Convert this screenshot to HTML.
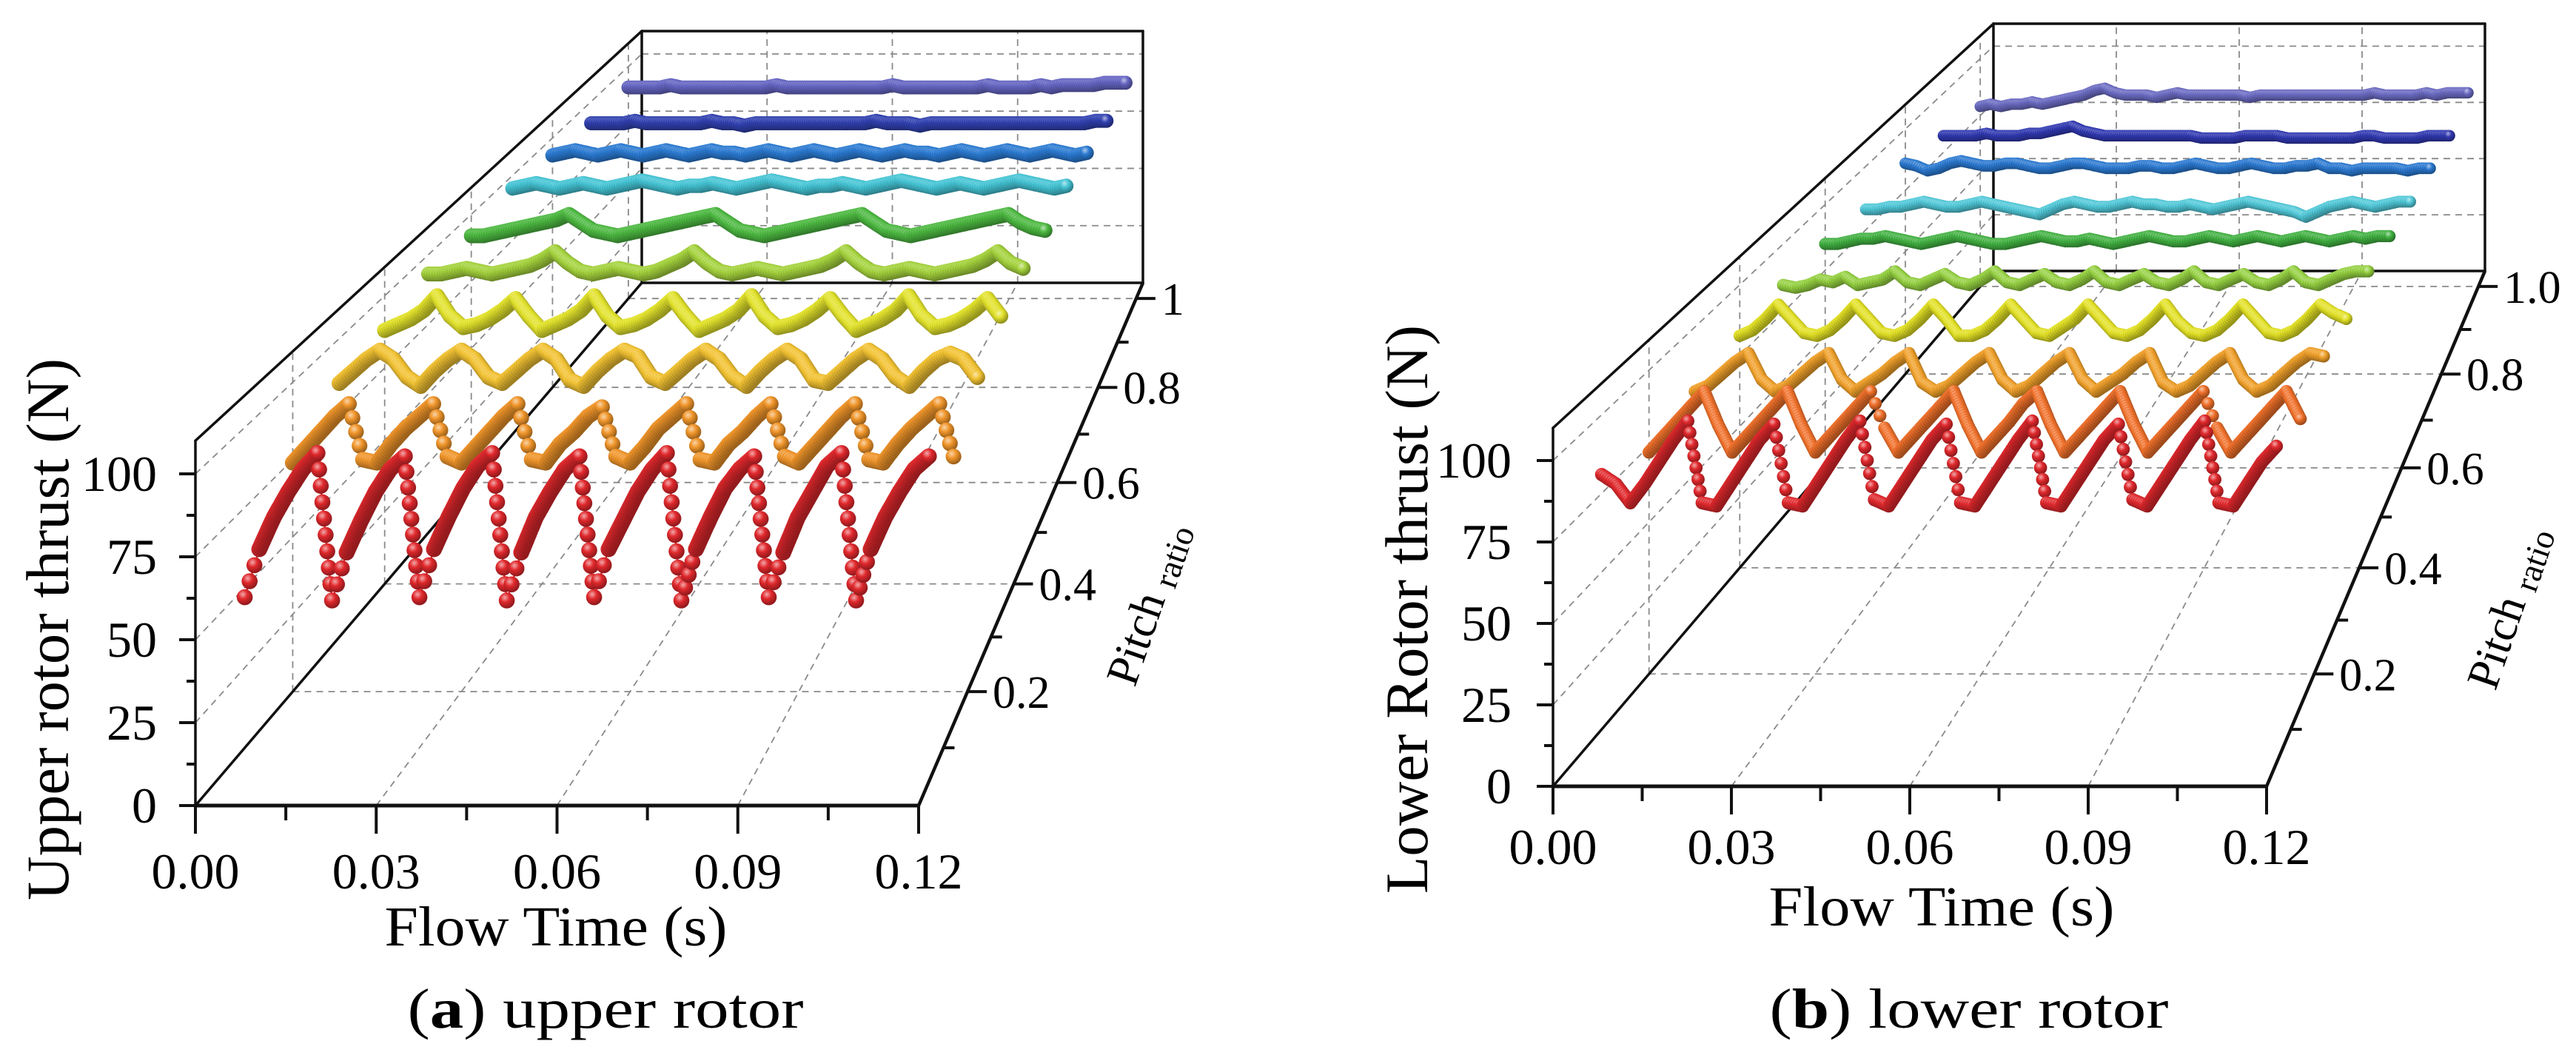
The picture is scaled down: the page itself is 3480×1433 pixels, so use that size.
<!DOCTYPE html>
<html><head><meta charset="utf-8"><style>
html,body{margin:0;padding:0;background:#fff;}
svg{display:block;font-family:"Liberation Serif",serif;}
</style></head><body>
<svg id="fig" width="3480" height="1433" viewBox="0 0 3480 1433">
<rect x="0" y="0" width="3480" height="1433" fill="#fff"/>
<defs id="defs"></defs>
<g id="chartA"></g>
<g id="chartB"></g>
<text x="818" y="1388" font-size="76" text-anchor="middle" textLength="535" lengthAdjust="spacingAndGlyphs">(<tspan font-weight="bold">a</tspan>) upper rotor</text>
<text x="2660" y="1388" font-size="76" text-anchor="middle" textLength="539" lengthAdjust="spacingAndGlyphs">(<tspan font-weight="bold">b</tspan>) lower rotor</text>
</svg>
<script>
const times = [0,0.0025,0.005,0.0075,0.01,0.0125,0.015,0.0175,0.02,0.0225,0.025,0.0275,0.03,0.0325,0.035,0.0375,0.04,0.0425,0.045,0.0475,0.05,0.0525,0.055,0.0575,0.06,0.0625,0.065,0.0675,0.07,0.0725,0.075,0.0775,0.08,0.0825,0.085,0.0875,0.09,0.0925,0.095,0.0975,0.1,0.1025,0.105,0.1075,0.11,0.1125,0.115,0.1175];
const pitches = [0.1,0.2,0.3,0.4,0.5,0.6,0.7,0.8,0.9,1.0];
const xTicks = [0,0.03,0.06,0.09,0.12];
const xTickLabels = ["0.00","0.03","0.06","0.09","0.12"];
const zTicks = [0,25,50,75,100];
const zTickLabels = ["0","25","50","75","100"];
const pTicks = [0.2,0.4,0.6,0.8,1.0];
const pTickLabelsA = ["0.2","0.4","0.6","0.8","1"];
const pTickLabelsB = ["0.2","0.4","0.6","0.8","1.0"];

const upRed = [47,62,72,80,87,92,46,61,71,80,87,91,47,62,72,81,88,92,46,61,72,80,87,91,47,62,71,80,87,92,46,62,72,81,87,91,47,61,72,80,88,92,46,62,72,80,87,91];
const upOrange = [74,79,84,89,93,75,74,80,85,89,93,76,74,79,84,89,93,75,74,80,84,89,92,76,74,79,85,89,93,75,74,80,84,89,93,76,74,79,84,89,93,75,74,80,85,89,93,76];
const upYOrange = [85,89,93,96,93,87,84,89,93,96,93,87,85,89,93,96,93,86,84,89,93,96,94,87,85,89,93,96,93,87,84,89,93,96,93,86,85,89,93,96,93,87,84,89,93,95,93,87];
const upYellow = [88,90,92,95,100,93,89,90,92,95,99,93,88,90,92,95,100,93,89,90,92,95,99,93,88,90,92,95,100,93,89,90,92,95,99,93,88,90,92,95,100,93,89,90,92,95,99,93];
const upYGreen = [93,93,94,95,94,93,94,95,96,98,101,97,94,93,94,95,94,93,94,96,98,101,97,94,93,94,95,94,93,94,95,96,98,101,97,94,93,94,95,94,93,94,95,96,98,101,97,95];
const upGreen = [92,92,93,94,95,96,97,98,100,97,94,93,92,93,94,95,96,97,98,99,100,97,94,93,92,93,94,95,96,97,98,99,100,97,94,93,92,93,94,95,96,97,98,99,100,97,95,94];
const upCyan = [95,96,97,96,95,96,97,96,95,96,97,98,97,96,95,96,96,97,96,95,96,97,98,97,96,95,96,96,97,96,95,96,97,98,97,96,95,96,97,96,95,96,97,98,97,96,95,96];
const upBlue = [93,94,95,94,93,94,95,94,93,94,95,94,93,94,95,94,94,93,94,95,94,93,94,95,94,93,94,95,94,93,94,95,94,94,93,94,95,94,93,94,95,94,93,94,95,94,93,94];
const upDBlue = [91,91,91,91,92,91,91,91,91,91,91,92,91,91,90,91,91,91,91,91,91,91,91,91,91,91,92,91,91,91,90,91,91,91,91,91,91,91,91,91,91,91,91,91,91,91,92,92];
const upViolet = [91,91,91,91,92,91,91,91,91,91,91,91,91,91,92,91,91,91,91,91,91,91,91,91,91,92,91,91,91,91,91,91,91,91,92,91,91,91,91,92,91,92,92,92,92,93,93,93];

const loRed = [81,78,72,78,85,92,98,72,71,78,85,92,97,72,71,78,85,92,98,73,71,78,85,92,97,72,71,78,85,92,98,72,71,78,85,92,97,73,71,78,85,92,98,72,71,78,85,90];
const loORed = [73,78,83,88,93,82,73,78,83,88,93,82,73,78,83,88,93,81,73,78,83,88,93,82,73,78,83,89,93,82,73,78,83,88,93,82,73,78,83,88,93,81,73,78,83,88,93,84];
const loOrange = [78,80,84,88,91,82,78,80,84,88,91,82,78,81,84,88,91,81,78,80,84,88,91,82,78,80,84,88,91,82,78,81,84,88,91,81,78,80,84,88,91,82,78,80,84,88,91,90];
const loYellow = [82,84,88,93,88,83,82,84,88,93,88,83,82,84,88,93,88,82,82,84,88,93,88,83,82,85,88,93,88,83,82,84,88,93,87,83,82,84,88,93,88,83,82,84,88,93,90,88];
const loYGreen = [85,84,85,87,86,88,85,86,87,90,86,85,87,89,86,85,87,90,86,85,87,89,86,85,87,90,86,85,87,89,86,85,87,90,86,85,87,89,86,85,87,90,86,85,87,89,90,90];
const loGreen = [85,85,86,87,87,88,87,86,85,86,87,88,87,86,85,85,86,87,88,87,86,86,87,86,85,86,87,88,87,86,86,87,88,87,86,87,88,87,86,87,88,87,86,87,88,87,88,88];
const loCyan = [83,83,84,84,85,86,85,84,84,85,86,85,84,83,82,81,83,85,86,85,84,84,85,86,85,85,84,84,85,84,83,84,85,86,85,84,83,82,80,82,84,85,86,85,84,85,86,86];
const loBlue = [86,85,83,84,86,87,86,85,85,86,86,85,84,84,85,86,86,85,84,84,84,85,85,84,84,85,86,85,84,84,85,86,85,84,84,85,85,86,84,84,83,84,84,84,84,83,84,84];
const loDBlue = [82,82,82,82,83,82,82,82,83,83,84,85,86,84,83,82,82,82,82,82,82,82,82,82,81,81,81,81,82,82,82,82,81,81,81,81,81,81,81,82,82,81,81,81,81,82,82,82];
const loViolet = [79,80,79,80,80,81,80,81,82,83,84,86,87,85,84,84,84,83,84,85,84,84,84,84,84,84,83,84,84,84,84,84,84,84,84,84,84,84,85,84,84,84,84,85,84,85,85,85];

const colorsA = ["#e0282c","#f0952a","#f2c232","#e2e22c","#a4d23c","#4cb840","#44c4d4","#2a7ad2","#3040b0","#6464c2"];
const colorsB = ["#e0282c","#f0702a","#f0a02a","#e2e024","#94d040","#40b040","#50c8d8","#2a78d0","#3038b0","#6a6ac2"];
const seriesA = [upRed,upOrange,upYOrange,upYellow,upYGreen,upGreen,upCyan,upBlue,upDBlue,upViolet];
const seriesB = [loRed,loORed,loOrange,loYellow,loYGreen,loGreen,loCyan,loBlue,loDBlue,loViolet];

const NS = "http://www.w3.org/2000/svg";
const defs = document.getElementById("defs");
function mk(tag, attrs, parent){
  const e = document.createElementNS(NS, tag);
  for (const k in attrs) e.setAttribute(k, attrs[k]);
  parent.appendChild(e);
  return e;
}
function shade(hex, k){
  const n = parseInt(hex.slice(1),16);
  let r=(n>>16)&255,g=(n>>8)&255,b=n&255;
  if(k>0){r=r+(255-r)*k;g=g+(255-g)*k;b=b+(255-b)*k;}else{r=r*(1+k);g=g*(1+k);b=b*(1+k);}
  return "rgb("+Math.round(r)+","+Math.round(g)+","+Math.round(b)+")";
}
function gradFor(id, col){
  const gr = mk("radialGradient",{id:id,cx:"38%",cy:"32%",r:"65%"},defs);
  mk("stop",{offset:"0%","stop-color":shade(col,0.6)},gr);
  mk("stop",{offset:"45%","stop-color":col},gr);
  mk("stop",{offset:"100%","stop-color":shade(col,-0.35)},gr);
}
function depth(p){ return p*(1.12-0.15*p); }

function makeChart(root, G, series, colors, cid, rad, pLabels, titles){
  const TMAX = 0.12, ZMAX = 110;
  function P(t,f,v){
    const lx = G.O[0]+(G.BL[0]-G.O[0])*f, rx = G.XE[0]+(G.BR[0]-G.XE[0])*f;
    const by = G.O[1]+(G.BL[1]-G.O[1])*f, s = 1-0.31*f;
    return [lx+(rx-lx)*t/TMAX, by - v*G.unit*s];
  }
  function line(a,b,name,style){
    const l = mk("line",Object.assign({x1:a[0],y1:a[1],x2:b[0],y2:b[1]},style),root);
    
    
    return l;
  }
  const dash = {stroke:"#8a8a8a","stroke-width":1.8,"stroke-dasharray":"9 7",fill:"none"};
  const solid = {stroke:"#111","stroke-width":3.5,"stroke-linecap":"round"};
  for (let i=1;i<xTicks.length-1;i++){
    line(P(xTicks[i],0,0),P(xTicks[i],1,0),"floor-grid-time",dash);
    line(P(xTicks[i],1,0),P(xTicks[i],1,ZMAX),"back-grid-time",dash);
  }
  for (let i=0;i<pTicks.length;i++){
    const f = depth(pTicks[i]);
    line(P(0,f,0),P(TMAX,f,0),"floor-grid-pitch",dash);
    line(P(0,f,0),P(0,f,ZMAX),"wall-grid-pitch",dash);
  }
  for (let i=1;i<zTicks.length;i++){
    line(P(0,0,zTicks[i]),P(0,1,zTicks[i]),"wall-grid-thrust",dash);
    line(P(0,1,zTicks[i]),P(TMAX,1,zTicks[i]),"back-grid-thrust",dash);
  }
  line(P(0,0,0),P(0,1,0),"floor-left-edge",solid);
  line(P(0,0,ZMAX),P(0,1,ZMAX),"wall-top-edge",solid);
  line(P(0,1,0),P(0,1,ZMAX),"back-left-edge",solid);
  line(P(0,1,ZMAX),P(TMAX,1,ZMAX),"back-top-edge",solid);
  line(P(TMAX,1,0),P(TMAX,1,ZMAX),"back-right-edge",solid);
  line(P(0,1,0),P(TMAX,1,0),"back-bottom-edge",solid);
  line(P(0,0,0),P(0,0,ZMAX),"y-axis-line",solid);
  line(P(0,0,0),P(TMAX,0,0),"x-axis-line",{stroke:"#111","stroke-width":5});
  line(P(TMAX,0,0),P(TMAX,1,0),"pitch-axis-line",{stroke:"#111","stroke-width":4.5});
  for (let i=0;i<=8;i++){
    const t = i*0.015, a = P(t,0,0), major = (i%2===0);
    line(a,[a[0],a[1]+(major?38:20)],major?"x-major-tick":"x-minor-tick",{stroke:"#111","stroke-width":4});
  }
  for (let i=0;i<xTicks.length;i++){
    const a = P(xTicks[i],0,0);
    const tx = mk("text",{x:a[0],y:a[1]+G.xlab,"font-size":G.fs,"text-anchor":"middle"},root);
    tx.textContent = xTickLabels[i];
    
    
  }
  for (let i=0;i<=8;i++){
    const z = i*12.5, a = P(0,0,z), major=(i%2===0);
    line(a,[a[0]-(major?22:12),a[1]],major?"y-major-tick":"y-minor-tick",{stroke:"#111","stroke-width":4});
  }
  for (let i=0;i<zTicks.length;i++){
    const a = P(0,0,zTicks[i]);
    const tx = mk("text",{x:a[0]-G.ylab,y:a[1]+23,"font-size":G.fs,"text-anchor":"end"},root);
    tx.textContent = zTickLabels[i];
    
    
  }
  for (let i=1;i<=10;i++){
    const p = i*0.1, a = P(TMAX,depth(p),0), major=(i%2===0);
    line(a,[a[0]+(major?26:15),a[1]],major?"pitch-major-tick":"pitch-minor-tick",{stroke:"#111","stroke-width":4});
  }
  for (let i=0;i<pTicks.length;i++){
    const a = P(TMAX,depth(pTicks[i]),0);
    const tx = mk("text",{x:a[0]+34,y:a[1]+22,"font-size":G.fs-6},root);
    tx.textContent = pLabels[i];
    
    
  }
  for (let s=series.length-1;s>=0;s--){
    const vals = series[s], col = colors[s], f = depth(pitches[s]);
    const gid = cid+"-g"+s;
    gradFor(gid,col);
    const g = mk("g",{},root);
    
    
    const pts = [];
    for (let i=0;i<times.length;i++) pts.push(P(times[i],f,vals[i]));
    const pl = mk("polyline",{points:pts.map(p=>p[0].toFixed(1)+","+p[1].toFixed(1)).join(" "),fill:"none",stroke:col,"stroke-width":2.5},g);
    
    
    const r = rad*(1-0.15*f);
    for (let i=0;i<pts.length;i++){
      const a = pts[i], b = pts[i+1] || pts[i];
      const dx=b[0]-a[0], dy=b[1]-a[1], L=Math.hypot(dx,dy);
      const steep = Math.abs(dy)>2.5*Math.abs(dx) && L>35;
      const step = steep ? r*2.1 : 3.5;
      const n = Math.max(1,Math.ceil(L/step));
      for (let k=0;k<n;k++){
        const c = mk("circle",{cx:(a[0]+dx*k/n).toFixed(1),cy:(a[1]+dy*k/n).toFixed(1),r:r.toFixed(1),fill:"url(#"+gid+")"},g);
        
        
      }
      if (i===pts.length-1) break;
    }
  }
  const t1 = mk("text",{x:titles.fx,y:titles.fy,"font-size":76,"text-anchor":"middle",textLength:titles.fl,lengthAdjust:"spacingAndGlyphs"},root);
  t1.textContent = "Flow Time (s)";
  
  
  const t2 = mk("text",{x:0,y:0,"font-size":82,"text-anchor":"middle",textLength:titles.yl,lengthAdjust:"spacingAndGlyphs",transform:"translate("+titles.yx+","+titles.yy+") rotate(-90)"},root);
  t2.textContent = titles.ytext;
  
  
  const t3 = mk("text",{x:0,y:0,"font-size":62,"text-anchor":"middle",transform:"translate("+titles.px+","+titles.py+") rotate(-71)"},root);
  
  
  const ts1 = mk("tspan",{},t3); ts1.textContent = "Pitch ";
  
  
  const ts2 = mk("tspan",{"font-size":46,dy:8},t3); ts2.textContent = "ratio";
  
  
}

makeChart(document.getElementById("chartA"),
  {O:[264,1088],XE:[1241,1088],BL:[867,382],BR:[1544,382],unit:4.48,fs:68,xlab:112,ylab:52},
  seriesA, colorsA, "A", 11, pTickLabelsA,
  {fx:751,fy:1277,fl:463,yx:92,yy:850,yl:732,ytext:"Upper rotor thrust (N)",px:1570,py:822});
makeChart(document.getElementById("chartB"),
  {O:[2098,1062],XE:[3062,1062],BL:[2693,366],BR:[3357,366],unit:4.4,fs:68,xlab:105,ylab:56},
  seriesB, colorsB, "B", 9, pTickLabelsB,
  {fx:2623,fy:1250,fl:467,yx:1928,yy:823,yl:768,ytext:"Lower Rotor thrust (N)",px:3408,py:827});
</script>
</body></html>
